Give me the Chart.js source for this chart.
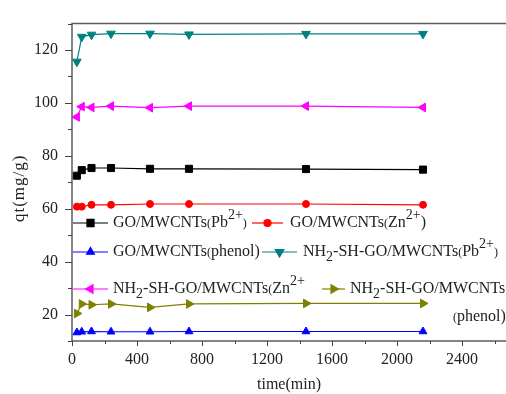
<!DOCTYPE html>
<html>
<head>
<meta charset="utf-8">
<script src="https://cdn.jsdelivr.net/npm/chart.js@4"></script>
<style>
  html, body { margin: 0; padding: 0; background: #fff; overflow: hidden; }
  #wrap { width: 540px; height: 394px; }
</style>
</head>
<body>
<div id="wrap"><canvas id="qtChart" width="540" height="394"></canvas></div>
<script>
// adsorption time (min) and uptake qt (mg/g) per adsorbent / solute
const times = [30, 60, 120, 240, 480, 720, 1440, 2160];
const goPb = [72.5, 74.6, 75.4, 75.4, 75.1, 75.1, 75.0, 74.8];
const goZn = [60.8, 60.8, 61.5, 61.5, 61.8, 61.8, 61.8, 61.5];
const goPhenol = [13.2, 13.5, 13.6, 13.5, 13.5, 13.6, 13.6, 13.6];
const nhPb = [115.6, 125.0, 125.8, 126.2, 126.2, 125.9, 126.1, 126.1];
const nhZn = [94.7, 98.6, 98.3, 98.8, 98.2, 98.8, 98.8, 98.3];
const nhPhenol = [20.4, 24.0, 23.7, 24.0, 22.7, 24.0, 24.2, 24.2];

const xTicks = [0, 400, 800, 1200, 1600, 2000, 2400];
const yTicks = [20, 40, 60, 80, 100, 120];

const seriesNames = [
  'GO/MWCNTs(Pb2+)', 'GO/MWCNTs(Zn2+)', 'GO/MWCNTs(phenol)',
  'NH2-SH-GO/MWCNTs(Pb2+)', 'NH2-SH-GO/MWCNTs(Zn2+)', 'NH2-SH-GO/MWCNTs(phenol)'
];

const SERIF = '"Liberation Serif", "Times New Roman", serif';
const VISIBLE_W = 506;

function series(i, data, color, style, rot, r) {
  return {
    label: seriesNames[i],
    data: times.map((t, k) => ({ x: t, y: data[k] })),
    borderColor: color,
    backgroundColor: color,
    borderWidth: 1.2,
    pointStyle: style,
    rotation: rot,
    pointRadius: r,
    pointBackgroundColor: color,
    pointBorderColor: color,
    pointBorderWidth: 1,
    tension: 0
  };
}

const datasets = [
  series(0, goPb, '#000000', 'rect', 0, 5),
  series(1, goZn, '#ff0000', 'circle', 0, 3.5),
  series(2, goPhenol, '#0000ff', 'triangle', 0, 4.5),
  series(3, nhPb, '#008080', 'triangle', 180, 5),
  series(4, nhZn, '#ff00ff', 'triangle', -90, 5),
  series(5, nhPhenol, '#808000', 'triangle', 90, 5)
];

// draws text runs with sub/superscripts, returns end x
function drawRich(ctx, segs, x, y) {
  for (const s of segs) {
    let size = 16, dy = 0;
    if (s.sup) { size = 14; dy = -8; }
    if (s.sub) { size = 14; dy = 5; }
    if (s.small) { size = 12; dy = 1; }
    ctx.font = size + 'px ' + SERIF;
    ctx.fillText(s.t, x, y + dy);
    x += ctx.measureText(s.t).width;
  }
  return x;
}

const legendRows = [
  { ds: 0, x0: 73, x1: 108, tx: 113, y: 223,
    segs: [{t: 'GO/MWCNTs'}, {t: '(', small: true}, {t: 'Pb'}, {t: '2+', sup: true}, {t: ')', small: true}] },
  { ds: 1, x0: 252, x1: 283, tx: 290, y: 223,
    segs: [{t: 'GO/MWCNTs'}, {t: '(', small: true}, {t: 'Zn'}, {t: '2+', sup: true}, {t: ')'}] },
  { ds: 2, x0: 73, x1: 108, tx: 113, y: 252,
    segs: [{t: 'GO/MWCNTs'}, {t: '(', small: true}, {t: 'phenol)'}] },
  { ds: 3, x0: 262, x1: 297, tx: 303, y: 252,
    segs: [{t: 'NH'}, {t: '2', sub: true}, {t: '-SH-GO/MWCNTs'}, {t: '(', small: true}, {t: 'Pb'}, {t: '2+', sup: true}, {t: ')', small: true}] },
  { ds: 4, x0: 73, x1: 108, tx: 113, y: 289,
    segs: [{t: 'NH'}, {t: '2', sub: true}, {t: '-SH-GO/MWCNTs'}, {t: '(', small: true}, {t: 'Zn'}, {t: '2+', sup: true}] },
  { ds: 5, x0: 322, x1: 345, tx: 350, y: 289,
    segs: [{t: 'NH'}, {t: '2', sub: true}, {t: '-SH-GO/MWCNTs'}] }
];

const frameAndTicks = {
  id: 'frameAndTicks',
  beforeDatasetsDraw(chart) {
    const { ctx, chartArea: a, scales: { x, y } } = chart;
    ctx.save();
    ctx.strokeStyle = '#5e5e5e';
    ctx.lineWidth = 1.5;
    ctx.beginPath();
    ctx.moveTo(a.right, a.top);
    ctx.lineTo(a.left, a.top);
    ctx.lineTo(a.left, a.bottom);
    ctx.lineTo(a.right, a.bottom);
    ctx.stroke();

    ctx.lineWidth = 1;
    ctx.strokeStyle = '#444';
    ctx.beginPath();
    for (let v = x.min; v <= x.max; v += 200) {
      const px = Math.round(x.getPixelForValue(v)) + 0.5;
      const len = xTicks.includes(v) ? 5 : 3;
      ctx.moveTo(px, a.bottom);
      ctx.lineTo(px, a.bottom + len);
    }
    for (let v = y.min; v <= y.max; v += 10) {
      const py = Math.round(y.getPixelForValue(v)) + 0.5;
      const len = yTicks.includes(v) ? 7 : 4;
      ctx.moveTo(a.left, py);
      ctx.lineTo(a.left - len, py);
    }
    ctx.stroke();
    ctx.restore();
  },
  afterDraw(chart) {
    const { ctx, chartArea: a } = chart;
    ctx.save();
    ctx.fillStyle = '#222';
    ctx.textBaseline = 'middle';

    // legend inside the plot
    for (const row of legendRows) {
      const ds = chart.data.datasets[row.ds];
      ctx.strokeStyle = ds.borderColor;
      ctx.fillStyle = ds.borderColor;
      ctx.lineWidth = 1.2;
      ctx.beginPath();
      ctx.moveTo(row.x0, row.y);
      ctx.lineTo(row.x1, row.y);
      ctx.stroke();
      Chart.helpers.drawPoint(ctx, {
        pointStyle: ds.pointStyle, rotation: ds.rotation,
        radius: ds.pointRadius, borderWidth: 1
      }, (row.x0 + row.x1) / 2, row.y);
      ctx.fillStyle = '#222';
      drawRich(ctx, row.segs, row.tx, row.y);
    }
    drawRich(ctx, [{t: '(', small: true}, {t: 'phenol)'}], 453, 317);

    // axis titles
    ctx.font = '16px ' + SERIF;
    ctx.textAlign = 'center';
    ctx.fillText('time(min)', (a.left + VISIBLE_W) / 2, 385);
    ctx.translate(20, (a.top + a.bottom) / 2 + 6);
    ctx.rotate(-Math.PI / 2);
    ctx.letterSpacing = '1px';
    ctx.font = '17px ' + SERIF;
    ctx.fillText('qt(mg/g)', 0, 0);
    ctx.restore();
  }
};

new Chart(document.getElementById('qtChart'), {
  type: 'line',
  data: { datasets },
  options: {
    responsive: false,
    animation: false,
    devicePixelRatio: 1,
    layout: { padding: { top: 13, right: 13, left: 0, bottom: 0 } },
    plugins: { legend: { display: false }, tooltip: { enabled: false } },
    scales: {
      x: {
        type: 'linear',
        min: 0,
        max: 2800,
        grid: { display: false, drawTicks: false },
        border: { display: false },
        afterBuildTicks: s => { s.ticks = xTicks.map(v => ({ value: v })); },
        afterFit: s => { s.height = 53; },
        ticks: { padding: 9, maxRotation: 0, color: '#222', callback: v => String(v),
                 font: { family: SERIF, size: 16 } }
      },
      y: {
        type: 'linear',
        min: 10,
        max: 130,
        grid: { display: false, drawTicks: false },
        border: { display: false },
        afterBuildTicks: s => { s.ticks = yTicks.map(v => ({ value: v })); },
        afterFit: s => { s.width = 72; },
        ticks: { padding: 14, color: '#222', callback: v => String(v),
                 font: { family: SERIF, size: 16 } }
      }
    }
  },
  plugins: [frameAndTicks]
});
</script>
</body>
</html>
